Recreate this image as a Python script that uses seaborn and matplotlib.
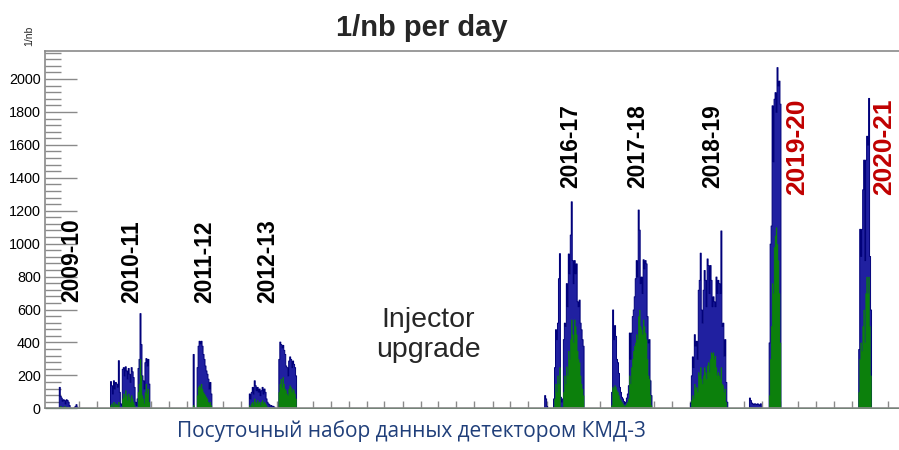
import numpy as np
import pandas as pd
import matplotlib
matplotlib.use("Agg")
import matplotlib.pyplot as plt
import matplotlib.dates as mdates
from matplotlib.ticker import MultipleLocator, NullLocator
import seaborn as sns

# ---------------- data ----------------
axis_start = "2009-10-11"
axis_end = "2021-08-26"
bin_days = 5

# season start dates and integrated luminosity per 5-day bin (1/nb per day)
start_0910 = "2009-12-21"
blue_0910 = [130, 75, 65, 45, 55, 50, 30, 55, 50, 40, 20, 5, 0, 0, 0, 8, 15, 25, 10]
green_0910 = [10, 15, 10, 5, 10, 15, 5, 10, 10, 5, 5, 0, 0, 0, 0, 0, 5, 5, 0]

start_1011 = "2010-09-06"
blue_1011 = [165, 140, 90, 170, 120, 160, 150, 130, 292, 100, 30, 20, 240, 250, 200, 255,
             230, 180, 245, 210, 160, 250, 225, 190, 130, 40, 20, 60, 245, 300, 578, 390,
             200, 170, 120, 280, 305, 260, 300, 150]
green_1011 = [20, 30, 10, 40, 20, 30, 25, 20, 40, 10, 0, 0, 60, 90, 70, 110,
              80, 50, 90, 70, 40, 80, 60, 40, 20, 5, 0, 10, 100, 150, 300, 200,
              80, 60, 30, 100, 150, 90, 120, 40]

start_1112 = "2011-11-01"
blue_1112 = [330, 0, 0, 0, 250, 380, 410, 395, 410, 380, 330, 300, 260, 230, 210, 180, 120, 160, 90]
green_1112 = [20, 0, 0, 0, 80, 130, 140, 130, 150, 120, 100, 90, 80, 70, 60, 40, 30, 40, 20]

start_1213 = "2012-08-12"
blue_1213 = [90, 60, 100, 130, 90, 170, 140, 110, 130, 100, 120, 80, 110, 130, 90, 120,
             100, 60, 40, 30, 25, 15, 20, 10, 15, 10, 0, 0, 0, 0,
             300, 405, 390, 370, 385, 355, 330, 260, 250, 200, 290, 315, 300, 250, 290, 270, 250, 200]
green_1213 = [20, 10, 30, 40, 20, 60, 40, 30, 50, 30, 40, 20, 40, 50, 30, 40,
              30, 20, 10, 10, 5, 5, 5, 0, 5, 0, 0, 0, 0, 0,
              100, 150, 180, 130, 190, 150, 120, 110, 90, 80, 120, 140, 130, 100, 120, 110, 90, 60]

start_1617 = "2016-09-18"
blue_1617 = [80, 60, 15, 0, 0, 0, 0, 0, 0,
             60, 250, 480, 420, 520, 790, 942, 70, 40, 60, 420, 520, 500, 760, 620, 940,
             820, 1055, 1257, 900, 760, 900, 820, 880, 650, 620, 660, 520, 480, 420, 380]
green_1617 = [0, 0, 0, 0, 0, 0, 0, 0, 0,
              10, 60, 150, 100, 200, 150, 250, 10, 5, 10, 100, 200, 150, 255, 200, 350,
              300, 420, 540, 450, 400, 540, 500, 450, 350, 300, 280, 200, 150, 120, 80]

start_1718 = "2017-08-24"
blue_1718 = [100, 600, 420, 505, 440, 300, 280, 215, 130, 100, 70, 60, 45, 30, 40, 65,
             90, 140, 460, 300, 460, 560, 600, 680, 790, 900, 800, 1207, 1085, 760, 800,
             700, 905, 850, 900, 880, 560, 400, 420, 170, 80]
green_1718 = [20, 130, 120, 140, 130, 110, 100, 80, 60, 50, 40, 30, 20, 15, 20, 30,
              40, 60, 200, 150, 250, 300, 350, 380, 400, 450, 420, 560, 600, 500, 480,
              450, 540, 500, 460, 420, 300, 200, 180, 80, 20]

start_1819 = "2018-09-30"
blue_1819 = [35, 200, 315, 250, 450, 380, 410, 300, 720, 780, 945, 600, 520, 720, 840, 780,
             620, 910, 870, 700, 870, 780, 620, 680, 650, 620, 800, 700, 780, 760, 700, 1080,
             500, 520, 320, 420, 160, 40]
green_1819 = [5, 50, 80, 60, 150, 120, 130, 100, 220, 200, 250, 180, 150, 200, 250, 220,
              180, 260, 280, 220, 300, 340, 330, 340, 300, 320, 250, 200, 220, 200, 180, 250,
              150, 140, 100, 120, 40, 10]

start_2019 = "2019-07-26"
blue_2019 = [65, 50, 35, 30, 25, 30, 28, 25, 30, 25, 20, 30]
green_2019 = [10, 8, 5, 5, 5, 5, 5, 5, 5, 5, 5, 5]

start_1920 = "2019-11-04"
blue_1920 = [400, 1000, 1110, 1840, 1500, 1880, 1920, 1800, 2072, 1960, 1990, 1850]
green_1920 = [80, 300, 500, 760, 700, 980, 1050, 1100, 1000, 900, 700, 400]

start_2021 = "2021-01-30"
blue_2021 = [360, 1090, 925, 1090, 1330, 1510, 900, 1510, 1655, 1600, 1885, 925, 600]
green_2021 = [100, 300, 400, 350, 500, 600, 400, 700, 800, 700, 800, 500, 200]

season_labels = ["2009-10", "2010-11", "2011-12", "2012-13", "2016-17", "2017-18", "2018-19", "2019-20", "2020-21"]
label_colors = ["black"] * 7 + ["#c00000"] * 2

segments = [
    (start_0910, blue_0910, green_0910),
    (start_1011, blue_1011, green_1011),
    (start_1112, blue_1112, green_1112),
    (start_1213, blue_1213, green_1213),
    (start_1617, blue_1617, green_1617),
    (start_1718, blue_1718, green_1718),
    (start_1819, blue_1819, green_1819),
    (start_2019, blue_2019, green_2019),
    (start_1920, blue_1920, green_1920),
    (start_2021, blue_2021, green_2021),
]

rows = []
for start, b, g in segments:
    t0 = pd.Timestamp(start)
    for i, (bv, gv) in enumerate(zip(b, g)):
        t = t0 + pd.Timedelta(days=bin_days * i + bin_days / 2)
        rows.append((mdates.date2num(t), bv, gv))
df = pd.DataFrame(rows, columns=["day", "blue", "green"])

x0 = mdates.date2num(pd.Timestamp(axis_start))
x1 = mdates.date2num(pd.Timestamp(axis_end))
n_bins = int(np.ceil((x1 - x0) / bin_days))
brange = (x0, x0 + n_bins * bin_days)

# ---------------- style ----------------
sns.set_style("ticks")
plt.rcParams["font.family"] = ["Liberation Sans", "DejaVu Sans"]

W, H = 899, 450
fig = plt.figure(figsize=(W / 100, H / 100), dpi=100)
ax_l, ax_r, ax_t, ax_b = 45, 899, 51, 408.3
ax = fig.add_axes([ax_l / W, (H - ax_b) / H, (ax_r - ax_l) / W, (ax_b - ax_t) / H])

blue_fill = "#2020a0"
blue_edge = "#00007a"
green_fill = "#0c800c"

sns.histplot(data=df, x="day", weights="blue", binwidth=bin_days, binrange=brange,
             element="step", fill=True, color=blue_fill, edgecolor=blue_edge,
             linewidth=0.7, alpha=1, ax=ax)
sns.histplot(data=df, x="day", weights="green", binwidth=bin_days, binrange=brange,
             element="step", fill=True, color=green_fill, edgecolor=green_fill,
             linewidth=0.3, alpha=1, ax=ax)

ax.set_xlim(x0, x1)
ax.set_ylim(0, 2170)
ax.set_xlabel("")
ax.set_ylabel("")

gray = "#8a8a8a"
ax.yaxis.set_major_locator(MultipleLocator(200))
ax.yaxis.set_minor_locator(MultipleLocator(40))
ax.xaxis.set_major_locator(NullLocator())
qticks = mdates.date2num(pd.date_range(axis_start, axis_end, freq="QS"))
ax.set_xticks(qticks, minor=True)
ax.tick_params(axis="y", which="major", direction="in", length=23, width=1.0, color=gray,
               labelsize=10.4, pad=3, labelcolor="black")
ax.tick_params(axis="y", which="minor", direction="in", length=11.5, width=1.0, color=gray)
ax.tick_params(axis="x", which="minor", direction="in", length=4.8, width=1.0, color=gray)
ax.tick_params(axis="x", which="major", length=0, labelbottom=False)

for s in ["left", "top", "bottom"]:
    ax.spines[s].set_color(gray)
    ax.spines[s].set_linewidth(1.2)
ax.spines["right"].set_visible(False)

# season labels (axes fraction positions)
lab_pos = [(0.0316, 0.2975), (0.1019, 0.2947), (0.1874, 0.2947), (0.2611, 0.2947),
           (0.6159, 0.6166), (0.6944, 0.6166), (0.7822, 0.6166), (0.8811, 0.597), (0.9824, 0.597)]
for name, c, (px, py) in zip(season_labels, label_colors, lab_pos):
    fs = 16.5 if c == "black" else 19
    ax.text(px, py, name, transform=ax.transAxes, rotation=90, ha="center", va="bottom",
            fontsize=fs, fontweight="bold", color=c)

ax.text((428 - ax_l) / (ax_r - ax_l), (ax_b - 335) / (ax_b - ax_t), "Injector\nupgrade",
        transform=ax.transAxes, ha="center", va="center", fontsize=20.5, linespacing=1.2)

fig.text(421.5 / W, 1 - 36 / H, "1/nb per day", ha="center", va="baseline",
         fontsize=21, fontweight="bold")
fig.text(29 / W, 1 - 36 / H, "1/nb", rotation=90, ha="center", va="center", fontsize=7.5)
fig.text(411 / W, 1 - 436.7 / H, "Посуточный набор данных детектором КМД-3", ha="center",
         va="baseline", fontsize=15, color="#203f7a", family=["Open Sans", "DejaVu Sans"])

fig.savefig("out.png", dpi=100)
